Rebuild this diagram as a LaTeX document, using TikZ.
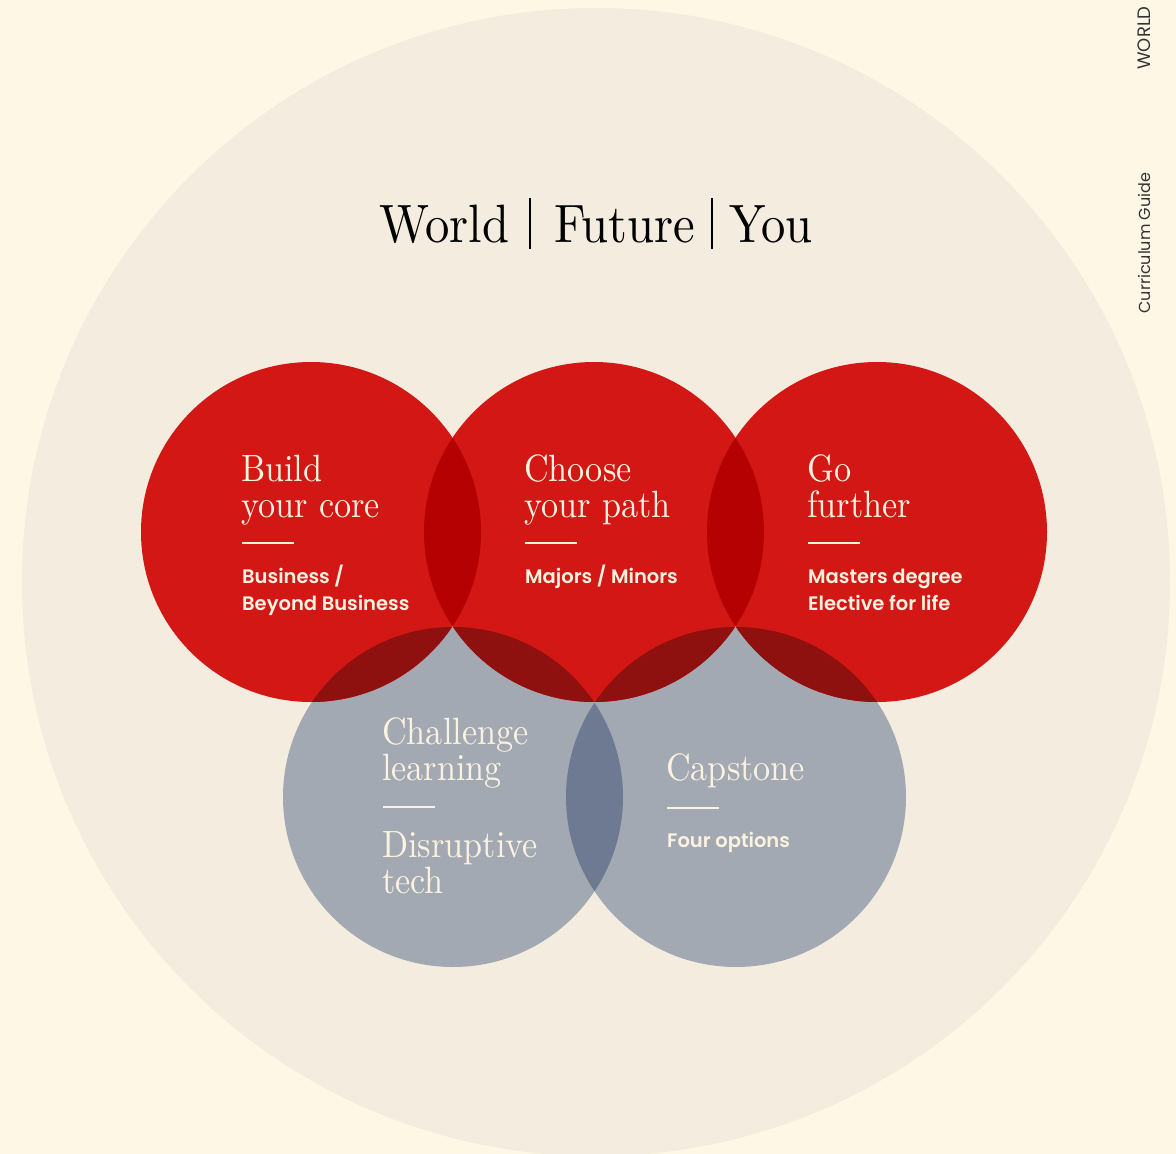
\documentclass[tikz,border=0pt]{standalone}
\usepackage{fontspec}
\setmainfont{lmroman10-regular}[Extension=.otf, FakeStretch=0.9]
\newfontfamily\sansf{Poppins}[BoldFont={Poppins SemiBold}]
\definecolor{bgout}{HTML}{FEF7E6}
\definecolor{bgin}{HTML}{F4ECDE}
\definecolor{redc}{HTML}{D21714}
\definecolor{redred}{HTML}{B50102}
\definecolor{grayc}{HTML}{A3A9B3}
\definecolor{graygray}{HTML}{6E7A92}
\definecolor{redgray}{HTML}{8E100F}
\definecolor{creamtxt}{HTML}{FBF2DF}
\tikzset{
  heading/.style={anchor=base west, inner sep=0pt, align=left, text=creamtxt,
    font=\fontsize{38}{36}\selectfont},
  sub/.style={anchor=base west, inner sep=0pt, align=left, text=creamtxt,
    font=\sansf\bfseries\fontsize{19.5}{27}\selectfont},
  rulel/.style={draw=creamtxt, line width=1.5pt},
  titletxt/.style={anchor=base west, inner sep=0pt, font=\fontsize{54}{54}\selectfont, text=black},
  sidetxt/.style={inner sep=0pt, rotate=90, font=\sansf\fontsize{16}{16}\selectfont, text=black!80},
}
\begin{document}
\begin{tikzpicture}[x=1pt,y=-1pt]
\useasboundingbox (0,0) rectangle (1176,1154);
\fill[bgout] (0,0) rectangle (1176,1154);
\begin{scope}
\clip (0,0) rectangle (1176,1154);
\fill[bgin] (596,582) circle[radius=574];
\end{scope}
% circles
\coordinate (RL) at (311,532);
\coordinate (RM) at (594,532);
\coordinate (RR) at (877,532);
\coordinate (GL) at (453,797);
\coordinate (GR) at (736,797);
\def\rr{170}
\foreach \c in {GL,GR}{\fill[grayc] (\c) circle[radius=\rr];}
\foreach \c in {RL,RM,RR}{\fill[redc] (\c) circle[radius=\rr];}
% red-red overlaps
\begin{scope}\clip (RL) circle[radius=\rr]; \fill[redred] (RM) circle[radius=\rr];\end{scope}
\begin{scope}\clip (RM) circle[radius=\rr]; \fill[redred] (RR) circle[radius=\rr];\end{scope}
% gray-gray
\begin{scope}\clip (GL) circle[radius=\rr]; \fill[graygray] (GR) circle[radius=\rr];\end{scope}
% red-gray
\begin{scope}\clip (RL) circle[radius=\rr]; \fill[redgray] (GL) circle[radius=\rr];\end{scope}
\begin{scope}\clip (RM) circle[radius=\rr]; \fill[redgray] (GL) circle[radius=\rr];\end{scope}
\begin{scope}\clip (RM) circle[radius=\rr]; \fill[redgray] (GR) circle[radius=\rr];\end{scope}
\begin{scope}\clip (RR) circle[radius=\rr]; \fill[redgray] (GR) circle[radius=\rr];\end{scope}
% title
\node[titletxt] (world) at (379,242) {World};
\node[titletxt] (future) at (554,242) {Future};
\node[titletxt] (you) at (729,242) {You};
\draw[line width=1.2pt] (530,198) -- (530,249);
\draw[line width=1.2pt] (712,198) -- (712,249);
% side
\node[sidetxt, font=\sansf\fontsize{18}{18}\selectfont] (sideworld) at (1144,38) {WORLD};
\node[sidetxt] (sideguide) at (1144,243) {Curriculum Guide};
% texts (multi-line nodes: base = last line)
\node[heading] (h1) at (241,517) {Build\\your core};
\draw[rulel] (242,543) -- (294,543);
\node[sub] (s1) at (242,610) {Business /\\Beyond Business};
\node[heading] (h2) at (524,517) {Choose\\your path};
\draw[rulel] (525,543) -- (577,543);
\node[sub] (s2) at (525,583) {Majors / Minors};
\node[heading] (h3) at (807,517) {Go\\further};
\draw[rulel] (808,543) -- (860,543);
\node[sub] (s3) at (808,610) {Masters degree\\Elective for life};
\node[heading] (h4) at (382,780) {Challenge\\learning};
\draw[rulel] (383,807) -- (435,807);
\node[heading] (h5) at (382,893) {Disruptive\\tech};
\node[heading] (h6) at (666,780) {Capstone};
\draw[rulel] (667,808) -- (719,808);
\node[sub] (s6) at (667,847) {Four options};
\end{tikzpicture}
\end{document}
